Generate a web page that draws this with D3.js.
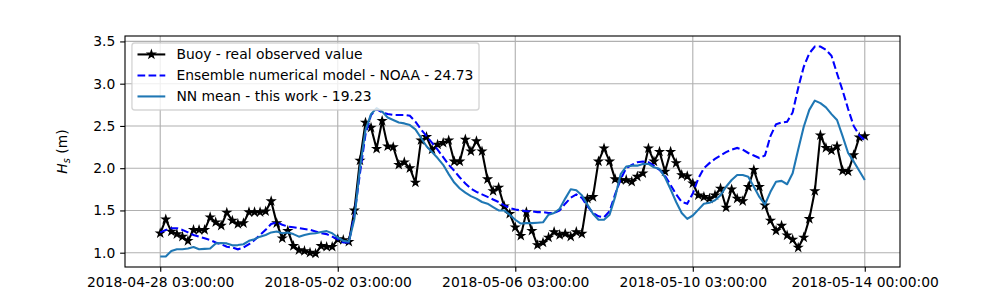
<!DOCTYPE html>
<html>
<head>
<meta charset="utf-8">
<script src="https://cdn.jsdelivr.net/npm/d3@7"></script>
<style>
body { margin: 0; background: #fff; }
text { font-family: "DejaVu Sans", sans-serif; }
</style>
</head>
<body>
<svg class="chart"></svg>
<script>
// 3-hourly samples, from 2018-04-28 03:00 to 2018-05-14 00:00
var startTime = "2018-04-28 03:00:00";
var stepHours = 3;

var buoy = [
    1.23, 1.395, 1.25, 1.22, 1.19, 1.14, 1.27, 1.27, 1.27, 1.42,
    1.36, 1.32, 1.475, 1.38, 1.34, 1.35, 1.48, 1.48, 1.48, 1.49,
    1.61, 1.35, 1.17, 1.26, 1.08, 1.03, 1.02, 1.00, 0.99, 1.08,
    1.07, 1.07, 1.16, 1.15, 1.13, 1.50, 2.09, 2.54, 2.48, 2.23,
    2.56, 2.26, 2.25, 2.04, 2.07, 2.00, 1.83, 2.33, 2.37, 2.22,
    2.28, 2.30, 2.33, 2.08, 2.08, 2.34, 2.20, 2.32, 2.20, 1.87,
    1.73, 1.77, 1.55, 1.46, 1.30, 1.20, 1.48, 1.26, 1.09, 1.12,
    1.18, 1.245, 1.21, 1.225, 1.19, 1.245, 1.225, 1.64, 1.66, 2.08,
    2.235, 2.08, 1.87, 1.86, 1.86, 1.84, 1.90, 1.94, 2.235, 2.08,
    2.195, 1.96, 2.195, 2.06, 1.92, 1.905, 1.82, 1.68, 1.66, 1.64,
    1.68, 1.76, 1.535, 1.75, 1.64, 1.61, 1.78, 1.98, 1.78, 1.56,
    1.38, 1.26, 1.32, 1.205, 1.155, 1.06, 1.18, 1.40, 1.73, 2.39,
    2.24, 2.21, 2.26, 1.97, 1.96, 2.155, 2.365, 2.38
];

var noaa = [
    1.24, 1.27, 1.29, 1.29, 1.27, 1.24, 1.21, 1.19, 1.17, 1.15,
    1.12, 1.10, 1.07, 1.06, 1.04, 1.06, 1.10, 1.15, 1.21, 1.27,
    1.34, 1.36, 1.33, 1.31, 1.30, 1.29, 1.28, 1.27, 1.25, 1.23,
    1.22, 1.19, 1.16, 1.12, 1.12, 1.45, 1.94, 2.40, 2.63, 2.70,
    2.66, 2.64, 2.63, 2.63, 2.63, 2.62, 2.55, 2.46, 2.38, 2.30,
    2.22, 2.13, 2.04, 1.97, 1.89, 1.82, 1.76, 1.72, 1.69, 1.66,
    1.63, 1.60, 1.56, 1.53, 1.51, 1.50, 1.49, 1.49, 1.48, 1.48,
    1.47, 1.47, 1.50, 1.58, 1.65, 1.69, 1.65, 1.55, 1.47, 1.43,
    1.42, 1.49, 1.69, 1.87, 2.00, 2.04, 2.07, 2.08, 2.07, 2.03,
    1.98, 1.91, 1.80, 1.69, 1.60, 1.58, 1.70, 1.88, 2.00, 2.06,
    2.11, 2.15, 2.19, 2.22, 2.24, 2.22, 2.18, 2.15, 2.12, 2.15,
    2.38, 2.52, 2.54, 2.55, 2.66, 2.95, 3.20, 3.36, 3.44, 3.44,
    3.40, 3.33, 3.12, 2.92, 2.70, 2.50, 2.39, 2.33
];

var nnMean = [
    0.955, 0.955, 1.02, 1.04, 1.04, 1.05, 1.067, 1.04, 1.045, 1.05,
    1.11, 1.115, 1.11, 1.087, 1.09, 1.10, 1.14, 1.16, 1.19, 1.21,
    1.24, 1.25, 1.23, 1.24, 1.22, 1.19, 1.21, 1.225, 1.23, 1.245,
    1.255, 1.23, 1.18, 1.14, 1.13, 1.40, 2.00, 2.45, 2.64, 2.71,
    2.67, 2.60, 2.57, 2.54, 2.53, 2.51, 2.46, 2.36, 2.26, 2.19,
    2.12, 2.04, 1.93, 1.83, 1.76, 1.71, 1.67, 1.64, 1.60, 1.58,
    1.54, 1.50, 1.50, 1.45, 1.39, 1.345, 1.35, 1.35, 1.355, 1.36,
    1.45, 1.47, 1.52, 1.64, 1.75, 1.74, 1.68, 1.57, 1.46, 1.39,
    1.39, 1.45, 1.66, 1.93, 2.02, 2.03, 2.03, 2.05, 2.05, 2.01,
    1.99, 1.89, 1.75, 1.60, 1.47, 1.40, 1.44, 1.51, 1.58, 1.59,
    1.62, 1.68, 1.78, 1.86, 1.92, 1.92, 1.90, 1.78, 1.66, 1.57,
    1.72, 1.84, 1.85, 1.81, 1.94, 2.22, 2.49, 2.69, 2.80, 2.77,
    2.72, 2.64, 2.57, 2.38, 2.18, 2.08, 1.97, 1.86
];

var xTickLabels = ["2018-04-28 03:00:00", "2018-05-02 03:00:00", "2018-05-06 03:00:00",
    "2018-05-10 03:00:00", "2018-05-14 00:00:00"];
var yTicks = [1.0, 1.5, 2.0, 2.5, 3.0, 3.5];

var seriesNames = ["Buoy - real observed value", "Ensemble numerical model - NOAA - 24.73",
    "NN mean - this work - 19.23"];

var margin = {
    top: 36,
    right: 100,
    bottom: 33,
    left: 125
};

var width = 1000 - margin.left - margin.right;
var height = 300 - margin.top - margin.bottom;
var px = 100 / 72; // points to pixels
var fontSize = 10 * px;

var parseTime = d3.utcParse("%Y-%m-%d %H:%M:%S");
var formatTime = d3.utcFormat("%Y-%m-%d %H:%M:%S");
var t0 = parseTime(startTime);

var times = buoy.map(function(d, i) {
    return new Date(t0.getTime() + i * stepHours * 3600 * 1000);
});

// matplotlib style 5% margins
var tExtent = d3.extent(times);
var tPad = (tExtent[1] - tExtent[0]) * 0.05;
var allValues = buoy.concat(noaa, nnMean);
var vExtent = d3.extent(allValues);
var vPad = (vExtent[1] - vExtent[0]) * 0.05;

var x = d3.scaleUtc()
    .domain([new Date(tExtent[0].getTime() - tPad), new Date(tExtent[1].getTime() + tPad)])
    .range([0, width]);

var y = d3.scaleLinear()
    .domain([vExtent[0] - vPad, vExtent[1] + vPad])
    .range([height, 0]);

var svg = d3.select(".chart")
    .attr("width", 1000)
    .attr("height", 300);

var chart = svg.append("g")
    .attr("transform", "translate(" + margin.left + "," + margin.top + ")");

var xTickValues = xTickLabels.map(parseTime);

// grid
chart.append("g")
    .selectAll("line.vgrid")
    .data(xTickValues)
    .enter().append("line")
    .attr("x1", function(d) { return x(d); })
    .attr("x2", function(d) { return x(d); })
    .attr("y1", 0)
    .attr("y2", height)
    .attr("stroke", "#b0b0b0")
    .attr("stroke-width", 0.8 * px);

chart.append("g")
    .selectAll("line.hgrid")
    .data(yTicks)
    .enter().append("line")
    .attr("x1", 0)
    .attr("x2", width)
    .attr("y1", function(d) { return y(d); })
    .attr("y2", function(d) { return y(d); })
    .attr("stroke", "#b0b0b0")
    .attr("stroke-width", 0.8 * px);

// lines
var line = function(values) {
    return d3.line()
        .x(function(d, i) { return x(times[i]); })
        .y(function(d) { return y(d); })(values);
};

chart.append("path")
    .attr("d", line(buoy))
    .attr("fill", "none")
    .attr("stroke", "black")
    .attr("stroke-width", 1.5 * px)
    .attr("stroke-linejoin", "round");

var star = d3.symbol().type(d3.symbolStar).size(15);

chart.append("g")
    .selectAll("path")
    .data(buoy)
    .enter().append("path")
    .attr("d", star)
    .attr("transform", function(d, i) {
        return "translate(" + x(times[i]) + "," + y(d) + ")";
    })
    .attr("fill", "black")
    .attr("stroke", "black")
    .attr("stroke-width", 1 * px);

chart.append("path")
    .attr("d", line(noaa))
    .attr("fill", "none")
    .attr("stroke", "#0000ff")
    .attr("stroke-width", 1.5 * px)
    .attr("stroke-dasharray", (5.55 * px) + "," + (2.4 * px));

chart.append("path")
    .attr("d", line(nnMean))
    .attr("fill", "none")
    .attr("stroke", "#1f77b4")
    .attr("stroke-width", 1.5 * px)
    .attr("stroke-linejoin", "round");

// axes
var xAxis = chart.append("g")
    .attr("transform", "translate(0," + height + ")")
    .call(d3.axisBottom(x)
        .tickValues(xTickValues)
        .tickFormat(formatTime)
        .tickSize(3.5 * px)
        .tickPadding(3.5 * px)
        .tickSizeOuter(0));

var yAxis = chart.append("g")
    .call(d3.axisLeft(y)
        .tickValues(yTicks)
        .tickFormat(d3.format(".1f"))
        .tickSize(3.5 * px)
        .tickPadding(3.5 * px)
        .tickSizeOuter(0));

[xAxis, yAxis].forEach(function(a) {
    a.select(".domain").remove();
    a.selectAll(".tick line").attr("stroke", "black").attr("stroke-width", 0.8 * px);
    a.selectAll(".tick text")
        .attr("fill", "black")
        .style("font-family", "DejaVu Sans")
        .style("font-size", fontSize + "px");
});

chart.append("rect")
    .attr("width", width)
    .attr("height", height)
    .attr("fill", "none")
    .attr("stroke", "black")
    .attr("stroke-width", 0.8 * px);

// y label
var ylab = svg.append("text")
    .attr("transform", "translate(67," + (margin.top + height / 2) + ") rotate(-90)")
    .attr("text-anchor", "middle")
    .style("font-size", fontSize + "px")
    .attr("fill", "black");
ylab.append("tspan").style("font-style", "italic").text("H");
ylab.append("tspan").style("font-style", "italic").style("font-size", (fontSize * 0.7) + "px")
    .attr("dy", 2.5).text("s");
ylab.append("tspan").attr("dy", -2.5).text(" (m)");

// legend
var legend = svg.append("g")
    .attr("transform", "translate(" + (margin.left + 0.5 * fontSize) + "," + (margin.top + 0.5 * fontSize) + ")");

var legendBox = legend.append("rect")
    .attr("rx", 0.2 * fontSize)
    .attr("fill", "white")
    .attr("fill-opacity", 0.8)
    .attr("stroke", "#cccccc")
    .attr("stroke-opacity", 0.8)
    .attr("stroke-width", 1 * px);

var rowStep = 21;
var handleX0 = 0.4 * fontSize;
var handleX1 = handleX0 + 2 * fontSize;
var textX = handleX1 + 0.8 * fontSize;

var rows = legend.selectAll("g.row")
    .data(seriesNames)
    .enter().append("g")
    .attr("transform", function(d, i) {
        return "translate(0," + (11.5 + i * rowStep) + ")";
    });

rows.append("line")
    .attr("x1", handleX0)
    .attr("x2", handleX1)
    .attr("stroke", function(d, i) { return ["black", "#0000ff", "#1f77b4"][i]; })
    .attr("stroke-width", 1.5 * px)
    .attr("stroke-dasharray", function(d, i) {
        return i == 1 ? (5.55 * px) + "," + (2.4 * px) : null;
    });

rows.filter(function(d, i) { return i == 0; })
    .append("path")
    .attr("d", star)
    .attr("transform", "translate(" + ((handleX0 + handleX1) / 2) + ",0)")
    .attr("fill", "black")
    .attr("stroke", "black")
    .attr("stroke-width", 1 * px);

var labels = rows.append("text")
    .attr("x", textX)
    .attr("y", 5)
    .attr("fill", "black")
    .style("font-size", fontSize + "px")
    .text(function(d) { return d; });

var maxLen = 0;
labels.each(function() {
    maxLen = Math.max(maxLen, this.getComputedTextLength());
});

legendBox
    .attr("width", textX + maxLen + 0.4 * fontSize)
    .attr("height", 67);
</script>
</body>
</html>
